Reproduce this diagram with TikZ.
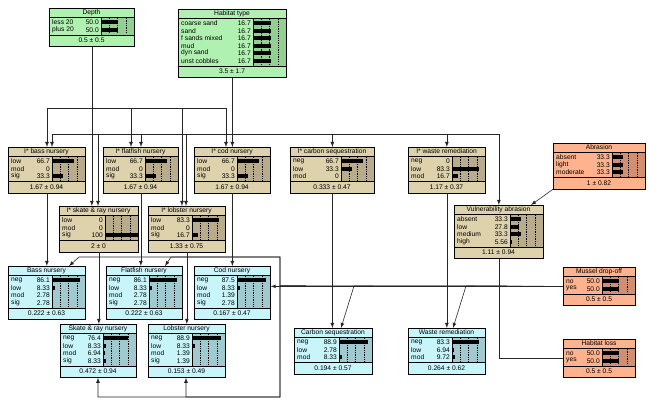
\documentclass[tikz,border=0pt]{standalone}
\usepackage{fontspec}
\setmainfont{Liberation Sans}
\usepackage{tikz}
\usetikzlibrary{calc,arrows.meta}
\tikzset{>=latex}

\definecolor{greenL}{RGB}{176,240,176}
\definecolor{greenD}{RGB}{146,208,146}
\definecolor{tanL}{RGB}{222,210,172}
\definecolor{tanD}{RGB}{184,172,140}
\definecolor{cyanL}{RGB}{200,245,250}
\definecolor{cyanD}{RGB}{160,202,208}
\definecolor{salmL}{RGB}{255,178,142}
\definecolor{salmD}{RGB}{210,142,112}

\newcommand{\bnfont}{\fontsize{5.7}{6.5}\selectfont}
\newcommand{\bnscale}{1}
\tikzset{
  bntext/.style={inner sep=0pt, font=\bnfont},
  bnbox/.style={draw, line width=0.6pt, inner sep=0pt, anchor=north west},
  bngrid/.style={line width=0.35pt, dash pattern=on 1pt off 1pt},
  link/.style={->, line width=0.5pt, draw=black!85},
  plainlink/.style={line width=0.5pt, draw=black!85}
}

% name, x, y, width, palette, title, rows, footer
\newcommand{\bnnode}[8]{%
  \foreach \lab/\val [count=\k] in {#7} {\xdef\bnn{\k}}%
  \pgfmathsetmacro\bnh{23+7.5*\bnn}%
  \pgfmathsetmacro\bnb{#4-33}%
  \begin{scope}[shift={(#2,#3)}]
    \fill[black!70] (1.2,1.2) rectangle (#4+1.2,\bnh+1.2);
    \node[bnbox, fill=#5L, minimum width=#4*0.03cm, minimum height=\bnh*0.03cm] (#1) at (0,0) {};
    \draw[fill=#5D, line width=0.6pt] (\bnb,9) rectangle (#4,\bnh-11);
    \draw[line width=0.6pt] (0,9) -- (#4,9) (0,\bnh-11) -- (#4,\bnh-11);
    \foreach \f in {0.25,0.5,0.75}
      \draw[bngrid] (\bnb+33*\f,10) -- (\bnb+33*\f,\bnh-12);
    \node[bntext] at (#4/2,4.5) {#6};
    \foreach \lab/\val [count=\k] in {#7} {
      \pgfmathsetmacro\ry{6.75+7.5*\k}
      \node[bntext, anchor=west] at (3,\ry) {\lab};
      \node[bntext, anchor=east] at (\bnb-2,\ry) {\val};
      \fill (\bnb,\ry-1.8) rectangle (\bnb+33*\val/100*\bnscale,\ry+1.8);
    }
    \node[bntext] at (#4/2,\bnh-5.5) {#8};
  \end{scope}
}

\begin{document}
\begin{tikzpicture}[x=0.03cm, y=-0.03cm]
\fill[white] (0,0) rectangle (650,407);
\useasboundingbox (0,0) rectangle (650,407);

\bnnode{depth}{49}{8}{85}{green}{Depth}{less 20/50.0, plus 20/50.0}{0.5 ± 0.5}
{\renewcommand{\bnscale}{3.3}
\bnnode{habitat}{178}{9}{108}{green}{Habitat type}{coarse sand/16.7, sand/16.7, f sands mixed/16.7, mud/16.7, dyn sand/16.7, unst cobbles/16.7}{3.5 ± 1.7}}

\bnnode{ibass}{8}{147}{77}{tan}{I* bass nursery}{low/66.7, mod/0, sig/33.3}{1.67 ± 0.94}
\bnnode{iflat}{103}{147}{75}{tan}{I* flatfish nursery}{low/66.7, mod/0, sig/33.3}{1.67 ± 0.94}
\bnnode{icod}{194}{147}{76}{tan}{I* cod nursery}{low/66.7, mod/0, sig/33.3}{1.67 ± 0.94}
\bnnode{icarbon}{290}{147}{84}{tan}{I* carbon sequestration}{neg/66.7, low/33.3, mod/0}{0.333 ± 0.47}
\bnnode{iwaste}{408}{147}{77}{tan}{I* waste remediation}{neg/0, low/83.3, mod/16.7}{1.17 ± 0.37}
\bnnode{iskate}{59}{206}{79}{tan}{I* skate \& ray nursery}{low/0, mod/0, sig/100}{2 ± 0}
\bnnode{ilobster}{148}{206}{77}{tan}{I* lobster nursery}{low/83.3, mod/0, sig/16.7}{1.33 ± 0.75}
\bnnode{vulner}{454}{205}{89}{tan}{Vulnerability abrasion}{absent/33.3, low/27.8, medium/33.3, high/5.56}{1.11 ± 0.94}

\bnnode{abrasion}{553}{143}{92}{salm}{Abrasion}{absent/33.3, light/33.3, moderate/33.3}{1 ± 0.82}
\bnnode{mussel}{563}{267}{72}{salm}{Mussel drop-off}{no/50.0, yes/50.0}{0.5 ± 0.5}
\bnnode{hloss}{563}{339}{72}{salm}{Habitat loss}{no/50.0, yes/50.0}{0.5 ± 0.5}

\bnnode{bass}{8}{266}{77}{cyan}{Bass nursery}{neg/86.1, low/8.33, mod/2.78, sig/2.78}{0.222 ± 0.63}
\bnnode{flat}{106}{266}{76}{cyan}{Flatfish nursery}{neg/86.1, low/8.33, mod/2.78, sig/2.78}{0.222 ± 0.63}
\bnnode{cod}{194}{266}{76}{cyan}{Cod nursery}{neg/87.5, low/8.33, mod/1.39, sig/2.78}{0.167 ± 0.47}
\bnnode{skate}{60}{324}{76}{cyan}{Skate \& ray nursery}{neg/76.4, low/8.33, mod/6.94, sig/8.33}{0.472 ± 0.94}
\bnnode{lobster}{148}{324}{77}{cyan}{Lobster nursery}{neg/88.9, low/8.33, mod/1.39, sig/1.39}{0.153 ± 0.49}
\bnnode{carbon}{294}{328}{78}{cyan}{Carbon sequestration}{neg/88.9, low/2.78, mod/8.33}{0.194 ± 0.57}
\bnnode{waste}{408}{328}{77}{cyan}{Waste remediation}{neg/83.3, low/6.94, mod/9.72}{0.264 ± 0.62}

\draw[link] (depth.south) -- (depth.south |- iskate.north);
\draw[link] (depth.south) |- (47,108) -- (47,108 |- ibass.north);
\draw[link] (depth.south) |- (131,108) -- (131,108 |- iflat.north);
\draw[link] (depth.south) |- (182,108) -- (182,108 |- ilobster.north);
\draw[link] (depth.south) |- (226,108) -- (226,108 |- icod.north);

\draw[link] (habitat.south) -- (habitat.south |- icod.north);
\draw[link] (habitat.south) |- (52,134) -- (52,134 |- ibass.north);
\draw[link] (habitat.south) |- (98,134) -- (98,134 |- iskate.north);
\draw[link] (habitat.south) |- (141,134) -- (141,134 |- iflat.north);
\draw[link] (habitat.south) |- (186,134) -- (186,134 |- ilobster.north);
\draw[link] (habitat.south) |- (icarbon.north |- 0,134) -- (icarbon.north);
\draw[link] (habitat.south) |- (iwaste.north |- 0,134) -- (iwaste.north);
\draw[link] (habitat.south) |- (vulner.north |- 0,134) -- (vulner.north);

\draw[link] (ibass.south) -- (bass.north);
\draw[link] (iskate.south) -- (iskate.south |- skate.north);
\draw[link] (iflat.south) -- (iflat.south |- flat.north);
\draw[link] (ilobster.south) -- (ilobster.south |- lobster.north);
\draw[link] (icod.south) -- (icod.south |- cod.north);
\draw[link] (icarbon.south) -- (icarbon.south |- carbon.north);
\draw[link] (iwaste.south) -- (waste.north);

\draw[link] (abrasion.south west) -- (531,0 |- vulner.north);
\draw[plainlink] (vulner.south) |- (hloss.west);

\draw[link] (mussel.west) -- (mussel.west -| cod.east);
\draw[link] (mussel.west) -- (280,286) |- (79,257) -- (69,0 |- bass.north);
\draw[link] (mussel.west) -- (280,286) |- (171,257) -- (165,0 |- flat.north);
\draw[link] (mussel.west) -- (280,286) |- (98,397) -- (98,0 |- skate.south);
\draw[link] (mussel.west) -- (280,286) |- (186,397) -- (186,0 |- lobster.south);
\draw[link] (mussel.west) -- (354,286) -- (341,0 |- carbon.north);
\draw[link] (mussel.west) -- (466,286) -- (453,0 |- waste.north);
\end{tikzpicture}
\end{document}
